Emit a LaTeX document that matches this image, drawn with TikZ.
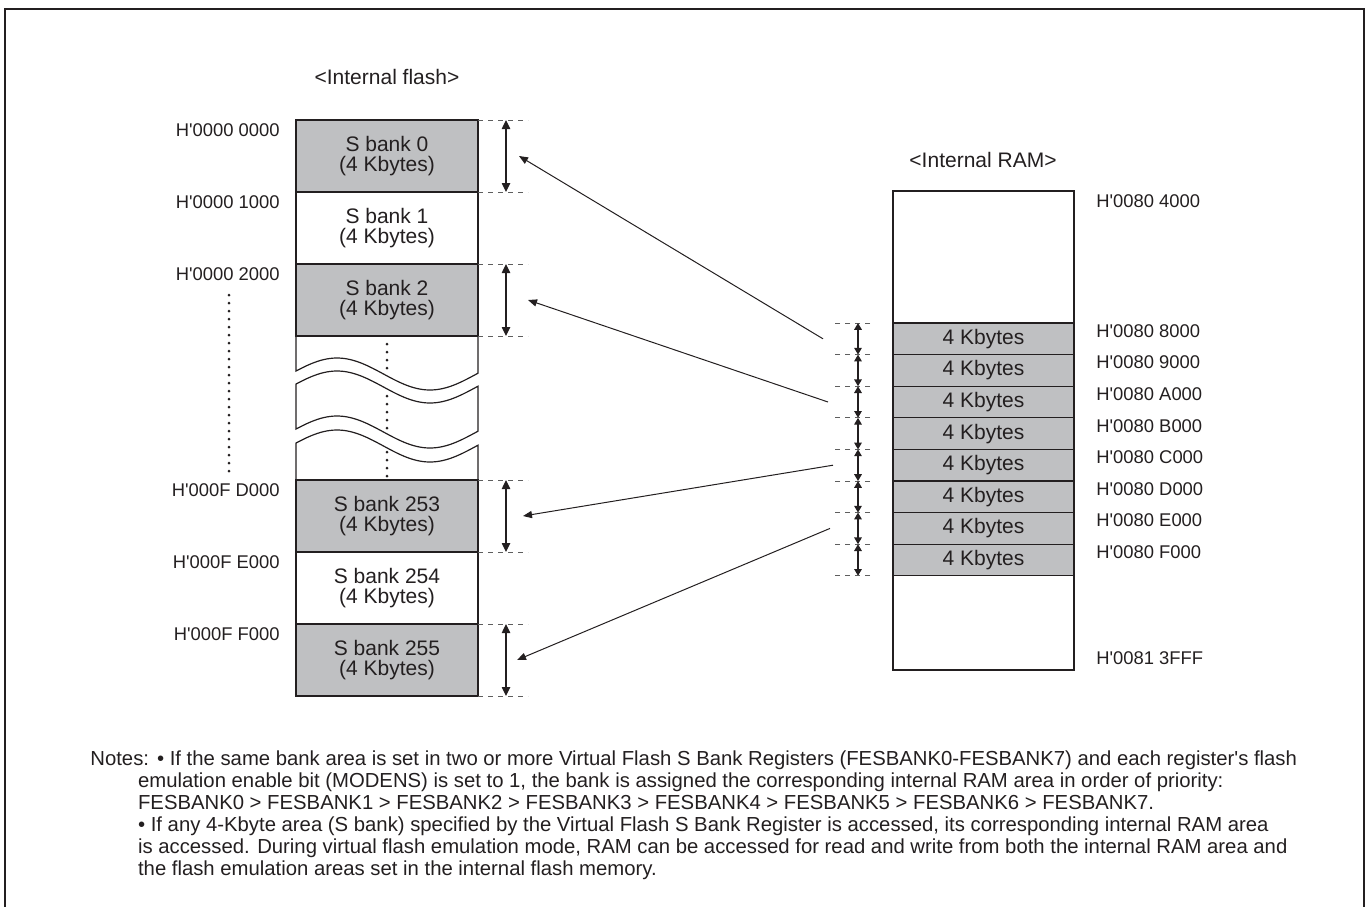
\documentclass[tikz,border=0pt]{standalone}
\usepackage{fontspec}
\setmainfont{Liberation Sans}[Ligatures=TeXOff]
\usetikzlibrary{arrows.meta, positioning, calc}
\definecolor{fmTinta}{HTML}{231F20}
\definecolor{fmCinza}{HTML}{BFC0C2}
\definecolor{fmGuia}{HTML}{5E5E5E}

\begin{document}
\begin{tikzpicture}[x=0.5pt, y=-0.5pt]
  \tikzset{
    declare function={onda(\x,\c)=\c-16*cos((\x-337)*1.9355);},
    bloco/.style={draw=fmTinta, line width=0.6pt, minimum width=91pt, minimum height=36pt,
                  inner sep=0pt, outer sep=0pt, align=center, text=fmTinta,
                  font=\fontsize{10.5}{10}\selectfont},
    blococ/.style={bloco, fill=fmCinza},
    faixa/.style={blococ, minimum width=90.5pt, minimum height=15.8pt},
    ender/.style={font=\fontsize{9.2}{11}\selectfont, inner sep=0pt, text=fmTinta},
    nota/.style={font=\fontsize{10.15}{11}\selectfont, inner sep=0pt, text=fmTinta},
    titulo/.style={font=\fontsize{10.5}{12}\selectfont, inner sep=0pt, text=fmTinta},
    guia/.style={fmGuia, line width=0.5pt, dash pattern=on 2.5pt off 2.5pt},
    cota/.style={{Triangle[length=4.5pt,width=4.2pt]}-{Triangle[length=4.5pt,width=4.2pt]},
                 fmTinta, line width=0.6pt},
    cotap/.style={cota, {Triangle[length=3.4pt,width=3.8pt]}-{Triangle[length=3.4pt,width=3.8pt]}},
    liga/.style={-{Triangle[length=4.5pt,width=3.6pt]}, fmTinta, line width=0.5pt},
    pontos/.style={fmTinta, line width=1.5pt, line cap=round, dash pattern=on 0pt off 4pt}}
  \useasboundingbox (0,0) rectangle (1370,906);
  \draw[fmTinta, line width=1pt] (4.5,912) -- (4.5,9) -- (1364,9) -- (1364,912);

  % internal flash
  \node[titulo] (tflash) at (387,77) {<Internal flash>};
  \node[blococ, anchor=north] (b0) at (387,120) {S bank 0\\(4 Kbytes)};
  \node[bloco, below=0pt of b0] (b1) {S bank 1\\(4 Kbytes)};
  \node[blococ, below=0pt of b1] (b2) {S bank 2\\(4 Kbytes)};
  \node[blococ, anchor=north] (b253) at (387,480) {S bank 253\\(4 Kbytes)};
  \node[bloco, below=0pt of b253] (b254) {S bank 254\\(4 Kbytes)};
  \node[blococ, below=0pt of b254] (b255) {S bank 255\\(4 Kbytes)};
  \draw[fmTinta, line width=0.6pt] (b2.south east) -- (b2.south west)
    -- plot[domain=296:478, samples=60] (\x,{onda(\x,374)}) -- cycle;
  \draw[fmTinta, line width=0.6pt] plot[domain=296:478, samples=60] (\x,{onda(\x,387)})
    -- plot[domain=478:296, samples=60] (\x,{onda(\x,432)}) -- cycle;
  \draw[fmTinta, line width=0.6pt] plot[domain=296:478, samples=60] (\x,{onda(\x,446)})
    -- (b253.north east) -- (b253.north west) -- cycle;
  \draw[pontos] (387,344) -- (387,368);
  \draw[pontos] (387,396) -- (387,428);
  \draw[pontos] (387,452) -- (387,476);
  \draw[pontos] (229,295) -- (229,473);
  \foreach \b/\t in {0/0000 0000, 1/0000 1000, 2/0000 2000, 253/000F D000, 254/000F E000, 255/000F F000}
    \node[ender, anchor=east] at ([xshift=-8pt, yshift=-5pt]b\b.north west) {H'\t};
  \foreach \b in {0,2,253,255}{
    \draw[guia] (b\b.north east) -- ++(50,0);
    \draw[guia] (b\b.south east) -- ++(50,0);
    \draw[cota] ([xshift=14pt]b\b.north east) -- ([xshift=14pt]b\b.south east);}

  % internal RAM
  \node[titulo] (tram) at (983,160) {<Internal RAM>};
  \node[bloco, minimum width=90.5pt, minimum height=239.5pt, anchor=north] (ram) at (983.5,191) {};
  \node[faixa, anchor=north] (r1) at (983.5,323) {4 Kbytes};
  \foreach \i/\p in {2/1,3/2,4/3,5/4,6/5,7/6,8/7} \node[faixa, below=0pt of r\p] (r\i) {4 Kbytes};
  \node[ender, anchor=west] at ([xshift=11pt, yshift=-5pt]ram.north east) {H'0080 4000};
  \foreach \i/\t in {1/8000, 2/9000, 3/A000, 4/B000, 5/C000, 6/D000, 7/E000, 8/F000}
    \node[ender, anchor=west] at ([xshift=11pt, yshift=-4pt]r\i.north east) {H'0080 \t};
  \node[ender, anchor=west] at ([xshift=11pt, yshift=6pt]ram.south east) {H'0081 3FFF};
  \foreach \i in {1,...,8}{
    \draw[guia] ([xshift=-11.5pt]r\i.north west) -- ++(-38,0);
    \draw[cotap] ([xshift=-17.5pt]r\i.north west) -- ([xshift=-17.5pt]r\i.south west);}
  \draw[guia] ([xshift=-11.5pt]r8.south west) -- ++(-38,0);

  % RAM areas to S banks
  \foreach \b/\r/\u/\v in {0/1/20.5/35, 2/3/25/32.5, 253/5/22.5/30, 255/7/19.5/31.5}
    \draw[liga] ([xshift=-\v pt]r\r.west) -- ([xshift=\u pt]b\b.east);

  \node[nota, anchor=north west] (notas) at (90,750) {\begin{tabular}{@{}l@{\hspace{-5.5pt}}l@{}}
    Notes: & \hspace{9.5pt}• If the same bank area is set in two or more Virtual Flash S Bank Registers (FESBANK0-FESBANK7) and each register's flash\\
    & emulation enable bit (MODENS) is set to 1, the bank is assigned the corresponding internal RAM area in order of priority:\\
    & FESBANK0 > FESBANK1 > FESBANK2 > FESBANK3 > FESBANK4 > FESBANK5 > FESBANK6 > FESBANK7.\\
    & • If any 4-Kbyte area (S bank) specified by the Virtual Flash S Bank Register is accessed, its corresponding internal RAM area\\
    & is accessed. During virtual flash emulation mode, RAM can be accessed for read and write from both the internal RAM area and\\
    & the flash emulation areas set in the internal flash memory.
  \end{tabular}};
\end{tikzpicture}
\end{document}
